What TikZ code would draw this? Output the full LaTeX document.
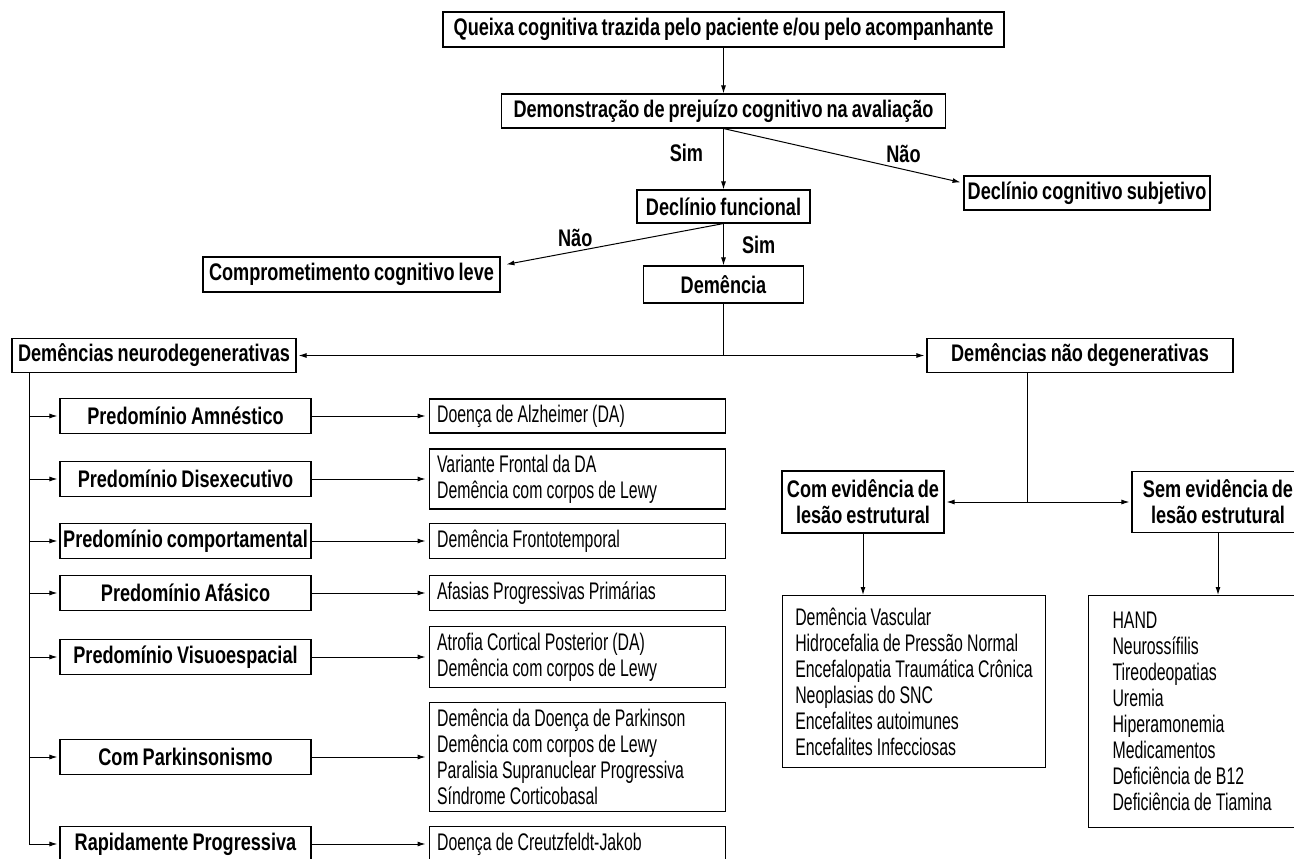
\documentclass[tikz,border=0pt]{standalone}
\usepackage{fontspec}
\setmainfont{Liberation Sans}
\newfontfamily\regcond{Liberation Sans}[FakeStretch=0.66, WordSpace=0.95]
\newfontfamily\boldcond{Liberation Sans}[FakeStretch=0.755, WordSpace=0.8]
\usetikzlibrary{arrows.meta, positioning}
\newcommand\diagfont{\fontsize{24}{26}\selectfont\hyphenpenalty=10000}
\tikzset{
    >={Latex[length=8pt, width=5pt]},
    % Boxes
    box/.style={draw, line width=1.1pt, inner sep=0pt, align=center, font=\diagfont\boldcond\bfseries},
    catbox/.style={box, minimum width=251pt, minimum height=35pt},
    resbox/.style={draw, line width=1.1pt, inner xsep=8pt, inner ysep=0pt,
                   text width=280pt, align=flush left, font=\diagfont\regcond},
    listbox/.style={draw, line width=1.1pt, anchor=north west, inner ysep=0pt,
                    align=left, font=\diagfont\regcond},
    % Flow & Labels
    flow/.style={->, line width=1pt},
    link/.style={line width=1pt},
    lbl/.style={font=\diagfont\boldcond\bfseries, inner sep=2pt}
}

\begin{document}
\begin{tikzpicture}[x=1pt, y=-1pt]
\useasboundingbox (0,0) rectangle (1294,859);
\clip (0,0) rectangle (1294,859);

% Top of the flow
\node[box, minimum width=561pt, minimum height=35pt] (queixa) at (723.5,29.5) {Queixa cognitiva trazida pelo paciente e/ou pelo acompanhante};
\node[box, minimum width=444pt, minimum height=34pt] (demonst) at (723.5,111) {Demonstração de prejuízo cognitivo na avaliação};
\node[box, minimum width=173pt, minimum height=33pt] (declfunc) at (723.5,206.5) {Declínio funcional};
\node[box, minimum width=246pt, minimum height=34pt] (declsubj) at (1087,193) {Declínio cognitivo subjetivo};
\node[box, minimum width=297pt, minimum height=35pt] (ccl) at (351.5,274.5) {Comprometimento cognitivo leve};
\node[box, minimum width=160pt, minimum height=37pt] (demencia) at (723.5,284.5) {Demência};
\node[box, minimum width=284pt, minimum height=34pt] (neurodeg) at (154,355.5) {Demências neurodegenerativas};
\node[box, minimum width=306pt, minimum height=34pt] (naodeg) at (1080,355.5) {Demências não degenerativas};

% Non degenerative side
\node[box, minimum width=162pt, minimum height=62pt] (comev) at (863,502) {Com evidência de\\lesão estrutural};
\node[box, minimum width=172pt, minimum height=61pt] (semev) at (1218,502) {Sem evidência de\\lesão estrutural};
\node[listbox, inner xsep=0pt, minimum width=263pt, minimum height=172pt] (comlist) at (782,595)
  {Demência Vascular\\Hidrocefalia de Pressão Normal\\Encefalopatia Traumática Crônica\\Neoplasias do SNC\\Encefalites autoimunes\\Encefalites Infecciosas};
\node[listbox, align=flush left, inner xsep=24pt, text width=220pt, minimum height=232pt] (semlist) at (1088,595)
  {HAND\\Neurossífilis\\Tireodeopatias\\Uremia\\Hiperamonemia\\Medicamentos\\Deficiência de B12\\Deficiência de Tiamina};

% Neurodegenerative side
\node[catbox] (amn) at (185.5,416) {Predomínio Amnéstico};
\node[catbox] (dis) at (185.5,479) {Predomínio Disexecutivo};
\node[catbox] (comp) at (185.5,541) {Predomínio comportamental};
\node[catbox] (afa) at (185.5,593) {Predomínio Afásico};
\node[catbox] (vis) at (185.5,657) {Predomínio Visuoespacial};
\node[catbox] (park) at (185.5,757) {Com Parkinsonismo};
\node[catbox] (rap) at (185.5,844) {Rapidamente Progressiva};

\node[resbox, minimum height=34pt, right=117pt of amn] (amnres) {Doença de Alzheimer (DA)};
\node[resbox, minimum height=60pt, right=117pt of dis] (disres) {Variante Frontal da DA\\Demência com corpos de Lewy};
\node[resbox, minimum height=35pt, right=117pt of comp] (compres) {Demência Frontotemporal};
\node[resbox, minimum height=35pt, right=117pt of afa] (afares) {Afasias Progressivas Primárias};
\node[resbox, minimum height=61pt, right=117pt of vis] (visres) {Atrofia Cortical Posterior (DA)\\Demência com corpos de Lewy};
\node[resbox, minimum height=109pt, right=117pt of park] (parkres) {Demência da Doença de Parkinson\\Demência com corpos de Lewy\\Paralisia Supranuclear Progressiva\\Síndrome Corticobasal};
\node[resbox, minimum height=35pt, right=117pt of rap] (rapres) {Doença de Creutzfeldt-Jakob};

% Connectors
\draw[flow] (queixa) -- (demonst);
\draw[flow] (demonst.south) -- node[lbl, left=18pt, pos=0.4] {Sim} (declfunc.north);
\draw[flow, shorten >=3pt] (demonst.south) -- node[lbl, above=4pt, pos=0.75] {Não} ([yshift=10pt]declsubj.west);
\draw[flow] (declfunc.south) -- node[lbl, right=16pt] {Sim} (demencia.north);
\draw[flow, shorten >=6pt] (declfunc.south) -- node[lbl, above=2pt, pos=0.665] {Não} ([yshift=9pt]ccl.east);

\coordinate (split) at (723.5,355.5);
\draw[link] (demencia.south) -- (split);
\draw[flow, shorten >=2pt] (split) -- (neurodeg.east);
\draw[flow, shorten >=2pt] (split) -- (naodeg.west);

\coordinate (split2) at (1027,502);
\draw[link] (naodeg.south -| split2) -- (split2);
\draw[flow, shorten >=2pt] (split2) -- (comev.east);
\draw[flow, shorten >=2pt] (split2) -- (semev.west);
\draw[flow] (comev.south) -- (comev.south |- comlist.north);
\draw[flow] (semev.south) -- (semev.south |- semlist.north);

\coordinate (spine) at (29,844);
\draw[link] (neurodeg.south -| spine) -- (spine);
\draw[flow, shorten >=2pt] (spine |- amn) -- (amn);
\draw[flow, shorten >=2pt] (spine |- dis) -- (dis);
\draw[flow, shorten >=2pt] (spine |- comp) -- (comp);
\draw[flow, shorten >=2pt] (spine |- afa) -- (afa);
\draw[flow, shorten >=2pt] (spine |- vis) -- (vis);
\draw[flow, shorten >=2pt] (spine |- park) -- (park);
\draw[flow, shorten >=2pt] (spine) -- (rap);

\draw[flow, shorten >=3pt] (amn) -- (amnres);
\draw[flow, shorten >=3pt] (dis) -- (disres);
\draw[flow, shorten >=3pt] (comp) -- (compres);
\draw[flow, shorten >=3pt] (afa) -- (afares);
\draw[flow, shorten >=3pt] (vis) -- (visres);
\draw[flow, shorten >=3pt] (park) -- (parkres);
\draw[flow, shorten >=3pt] (rap) -- (rapres);

\end{tikzpicture}
\end{document}
